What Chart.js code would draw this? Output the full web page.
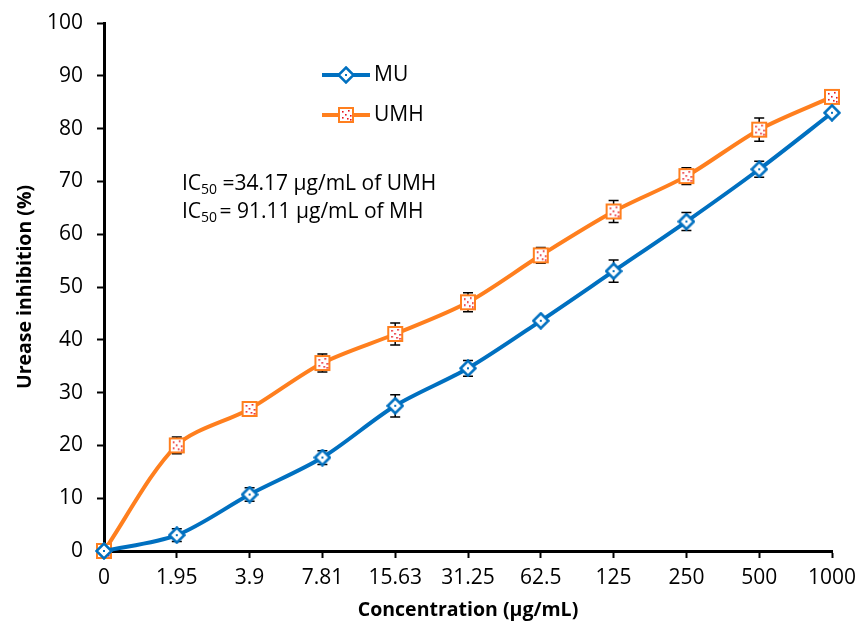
<!DOCTYPE html>
<html>
<head>
<meta charset="utf-8">
<script src="https://cdn.jsdelivr.net/npm/chart.js@4.4.0/dist/chart.umd.min.js"></script>
<style>
  html, body { margin: 0; padding: 0; background: #fff; }
</style>
</head>
<body>
<canvas id="myChart" width="858" height="628"></canvas>
<script>
// Concentraciones (µg/mL) y porcentajes de inhibición
const concentraciones = ['0', '1.95', '3.9', '7.81', '15.63', '31.25', '62.5', '125', '250', '500', '1000'];
const valoresMU = [0, 3.0, 10.7, 17.7, 27.5, 34.6, 43.6, 53.0, 62.4, 72.3, 83.0];
const errorMU = [0, 1.2, 1.3, 1.3, 2.1, 1.5, 0.5, 2.1, 1.7, 1.5, 0.5];
const valoresUMH = [0, 20.0, 26.9, 35.6, 41.1, 47.1, 56.0, 64.3, 71.0, 79.8, 86.0];
const errorUMH = [0, 1.6, 0.7, 1.7, 2.1, 1.8, 1.5, 2.1, 1.6, 2.2, 0.5];
const ticksY = [0, 10, 20, 30, 40, 50, 60, 70, 80, 90, 100];

const AZUL = '#0070C0';
const NARANJA = '#FF7F1E';
const FUENTE = 'Open Sans';

// Marcador rombo blanco con punto central
function marcadorRombo() {
    const c = document.createElement('canvas');
    c.width = 18; c.height = 18;
    const g = c.getContext('2d');
    g.beginPath();
    g.moveTo(9, 1.5); g.lineTo(16.5, 9); g.lineTo(9, 16.5); g.lineTo(1.5, 9); g.closePath();
    g.fillStyle = '#fff'; g.fill();
    g.lineWidth = 2.5; g.strokeStyle = AZUL; g.stroke();
    g.fillStyle = AZUL;
    g.fillRect(8, 8, 2, 2);
    return c;
}

// Marcador cuadrado blanco con puntos rojos
function marcadorCuadro() {
    const c = document.createElement('canvas');
    c.width = 18; c.height = 18;
    const g = c.getContext('2d');
    g.fillStyle = '#fff'; g.fillRect(2, 2, 14, 14);
    g.lineWidth = 2; g.strokeStyle = NARANJA; g.strokeRect(2, 2, 14, 14);
    g.fillStyle = '#E8141C';
    [[5, 5], [11, 4], [8, 8], [13, 9], [5, 11], [10, 12], [13, 13]].forEach(p => g.fillRect(p[0], p[1], 1.6, 1.6));
    return c;
}

const imgMU = marcadorRombo();
const imgUMH = marcadorCuadro();

// Barras de error (desviación) dibujadas con las escalas del gráfico
const barrasError = {
    id: 'barrasError',
    beforeDatasetsDraw(chart) {
        const { ctx, scales: { x, y } } = chart;
        const series = [[valoresMU, errorMU], [valoresUMH, errorUMH]];
        ctx.save();
        ctx.strokeStyle = '#000';
        ctx.lineWidth = 1.5;
        series.forEach(([vals, errs]) => {
            vals.forEach((v, i) => {
                if (!errs[i]) return;
                const px = x.getPixelForValue(i);
                const y1 = y.getPixelForValue(v + errs[i]);
                const y2 = y.getPixelForValue(v - errs[i]);
                ctx.beginPath();
                ctx.moveTo(px, y1); ctx.lineTo(px, y2);
                ctx.moveTo(px - 5, y1); ctx.lineTo(px + 5, y1);
                ctx.moveTo(px - 5, y2); ctx.lineTo(px + 5, y2);
                ctx.stroke();
            });
        });
        ctx.restore();
    }
};

// Leyenda y texto de IC50 dentro del área del gráfico
const anotaciones = {
    id: 'anotaciones',
    afterDraw(chart) {
        const ctx = chart.ctx;
        ctx.save();
        const items = [['MU', AZUL, imgMU, 75], ['UMH', NARANJA, imgUMH, 115]];
        items.forEach(([txt, col, img, yy]) => {
            ctx.strokeStyle = col;
            ctx.lineWidth = 4;
            ctx.beginPath(); ctx.moveTo(322, yy); ctx.lineTo(370, yy); ctx.stroke();
            ctx.drawImage(img, 346 - 9, yy - 9);
            ctx.fillStyle = '#000';
            ctx.font = '21px "' + FUENTE + '"';
            ctx.textBaseline = 'middle';
            ctx.textAlign = 'left';
            ctx.fillText(txt, 374, yy);
        });

        const lineas = [['IC', '50', ' =34.17 µg/mL of UMH', 183], ['IC', '50', ' = 91.11 µg/mL of MH', 211]];
        ctx.textBaseline = 'alphabetic';
        lineas.forEach(([a, sub, resto, yy]) => {
            let px = 182;
            ctx.font = '21px "' + FUENTE + '"';
            ctx.fillText(a, px, yy + 7);
            px += ctx.measureText(a).width;
            ctx.font = '14px "' + FUENTE + '"';
            ctx.fillText(sub, px, yy + 11);
            px += ctx.measureText(sub).width;
            ctx.font = '21px "' + FUENTE + '"';
            ctx.fillText(resto, px - (resto.startsWith(' = ') ? 3 : 0), yy + 7);
        });
        ctx.restore();
    }
};

const ctx = document.getElementById('myChart').getContext('2d');
const myChart = new Chart(ctx, {
    type: 'line',
    data: {
        labels: concentraciones,
        datasets: [
            {
                label: 'MU',
                data: valoresMU,
                borderColor: AZUL,
                borderWidth: 4,
                tension: 0.3,
                pointStyle: imgMU,
                clip: false
            },
            {
                label: 'UMH',
                data: valoresUMH,
                borderColor: NARANJA,
                borderWidth: 4,
                tension: 0.3,
                pointStyle: imgUMH,
                clip: false
            }
        ]
    },
    options: {
        responsive: false,
        animation: false,
        layout: { padding: { top: 23, right: 26, left: 0, bottom: 0 } },
        plugins: {
            legend: { display: false },
            tooltip: { enabled: false }
        },
        scales: {
            x: {
                type: 'category',
                offset: false,
                grid: { drawOnChartArea: false, drawTicks: true, tickLength: 7, tickWidth: 2, color: '#000' },
                border: { color: '#000', width: 3 },
                ticks: { color: '#000', font: { family: FUENTE, size: 21 }, padding: 7, maxRotation: 0, autoSkip: false },
                title: { display: true, text: 'Concentration (µg/mL)', color: '#000', font: { family: FUENTE, size: 19.5, weight: 'bold' }, padding: { top: 0, bottom: 6 } },
                afterFit(scale) {
                    scale.height = 77;
                    scale.paddingLeft = 0;
                    scale.paddingRight = 0;
                }
            },
            y: {
                min: 0,
                max: 100,
                afterBuildTicks(scale) { scale.ticks = ticksY.map(v => ({ value: v })); },
                grid: { drawOnChartArea: false, drawTicks: true, tickLength: 7, tickWidth: 2, color: '#000' },
                border: { color: '#000', width: 3 },
                ticks: { color: '#000', font: { family: FUENTE, size: 21 }, padding: 14 },
                title: { display: true, text: 'Urease inhibition (%)', color: '#000', font: { family: FUENTE, size: 19.5, weight: 'bold' }, padding: { top: 14, bottom: 4 } },
                afterFit(scale) {
                    scale.width = 104;
                    scale.paddingTop = 0;
                    scale.paddingBottom = 0;
                }
            }
        }
    },
    plugins: [barrasError, anotaciones]
});
</script>
</body>
</html>
